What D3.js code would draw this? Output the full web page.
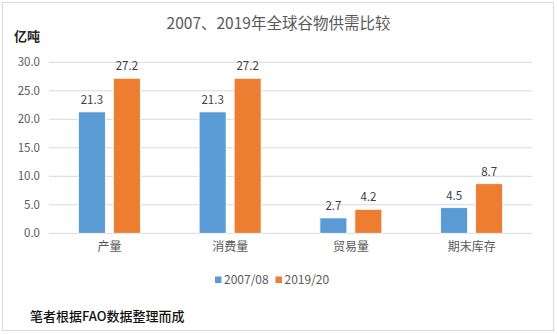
<!DOCTYPE html>
<html><head><meta charset="utf-8">
<script src="https://cdn.jsdelivr.net/npm/d3@7"></script>
<style>body{margin:0;background:#fff;}svg{display:block;}</style>
</head><body>
<svg id="c" width="557" height="334"></svg>
<script>
const categories = ["产量", "消费量", "贸易量", "期末库存"];
const seriesNames = ["2007/08", "2019/20"];
const values2007 = [21.3, 21.3, 2.7, 4.5];
const values2019 = [27.2, 27.2, 4.2, 8.7];
const yTicks = [0, 5, 10, 15, 20, 25, 30];
const colors = ["#5B9BD5", "#ED7D31"];
const titleText = "2007、2019年全球谷物供需比较";
const unitText = "亿吨";
const noteText = "笔者根据FAO数据整理而成";

const font = "'Noto Sans CJK SC', 'Noto Sans', sans-serif";
const svg = d3.select("#c").style("font-family", font);

svg.append("rect").attr("x", 2.5).attr("y", 2.5).attr("width", 551).attr("height", 328)
  .attr("fill", "#fff").attr("stroke", "#d9d9d9");

const plotLeft = 49, plotRight = 532, plotTop = 62.3, plotBottom = 233.3;
const x = d3.scaleBand().domain(categories).range([plotLeft, plotRight]).paddingInner(0).paddingOuter(0);
const x1 = d3.scaleBand().domain(seriesNames).range([0, x.bandwidth()]).paddingInner(0.229).paddingOuter(0.84);
const y = d3.scaleLinear().domain([0, 30]).range([plotBottom, plotTop]);

// gridlines
svg.append("g").selectAll("line").data(yTicks).join("line")
  .attr("x1", plotLeft).attr("x2", plotRight)
  .attr("y1", d => y(d)).attr("y2", d => y(d))
  .attr("stroke", "#d9d9d9").attr("stroke-width", 1);

// y axis labels
const yAxis = d3.axisLeft(y).tickValues(yTicks).tickFormat(d3.format(".1f")).tickSize(0).tickPadding(0);
const ya = svg.append("g").attr("transform", `translate(${plotLeft - 9},0)`).call(yAxis);
ya.select(".domain").remove();
ya.selectAll("text").attr("fill", "#595959").style("font-size", "11.5px").style("font-family", font);

// x axis labels
const xAxis = d3.axisBottom(x).tickSize(0).tickPadding(9);
const xa = svg.append("g").attr("transform", `translate(0,${plotBottom})`).call(xAxis);
xa.select(".domain").remove();
xa.selectAll("text").attr("fill", "#595959").style("font-size", "12px").style("font-family", font);

const data = categories.map((c, i) => ({ c, vals: [values2007[i], values2019[i]] }));
const groups = svg.append("g").selectAll("g").data(data).join("g")
  .attr("transform", d => `translate(${x(d.c)},0)`);
groups.selectAll("rect").data(d => d.vals.map((v, j) => ({ v, s: seriesNames[j], j }))).join("rect")
  .attr("x", d => x1(d.s)).attr("width", x1.bandwidth())
  .attr("y", d => y(d.v)).attr("height", d => plotBottom - y(d.v))
  .attr("fill", d => colors[d.j]).attr("stroke", "#fff").attr("stroke-width", 0.8);
groups.selectAll("text").data(d => d.vals.map((v, j) => ({ v, s: seriesNames[j], j }))).join("text")
  .attr("x", d => x1(d.s) + x1.bandwidth() / 2).attr("y", d => y(d.v) - 8)
  .attr("text-anchor", "middle").attr("fill", "#404040").style("font-size", "11.5px")
  .text(d => d3.format(".1f")(d.v));

// title
svg.append("text").attr("x", 278.5).attr("y", 28.5).attr("text-anchor", "middle")
  .attr("fill", "#595959").style("font-size", "15.5px").text(titleText);
// unit
svg.append("text").attr("x", 14).attr("y", 41).attr("fill", "#262626")
  .style("font-size", "13px").style("font-weight", "bold").text(unitText);

// legend
const legendItems = [{ name: seriesNames[0], x: 215 }, { name: seriesNames[1], x: 275.5 }];
const lg = svg.append("g").selectAll("g").data(legendItems).join("g")
  .attr("transform", d => `translate(${d.x},280)`);
lg.append("rect").attr("x", 0).attr("y", -3.5).attr("width", 6.5).attr("height", 6.5)
  .attr("fill", (d, i) => colors[i]);
lg.append("text").attr("x", 9).attr("y", 4.2).attr("fill", "#595959")
  .style("font-size", "12px").text(d => d.name);

// note
svg.append("text").attr("x", 30).attr("y", 321).attr("fill", "#111")
  .style("font-size", "13px").style("font-weight", "500").text(noteText);
</script>
</body></html>
